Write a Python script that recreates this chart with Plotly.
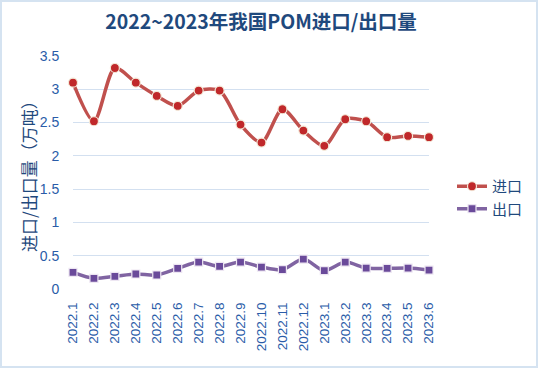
import plotly.graph_objects as go

months = ["2022.1", "2022.2", "2022.3", "2022.4", "2022.5", "2022.6", "2022.7", "2022.8", "2022.9",
          "2022.10", "2022.11", "2022.12", "2023.1", "2023.2", "2023.3", "2023.4", "2023.5", "2023.6"]
imports = [3.1, 2.52, 3.32, 3.1, 2.9, 2.75, 2.98, 2.98, 2.47, 2.2, 2.7, 2.38, 2.15, 2.55, 2.52, 2.28, 2.3, 2.28]
exports = [0.25, 0.16, 0.19, 0.225, 0.21, 0.31, 0.405, 0.34, 0.405, 0.33, 0.29, 0.45, 0.275, 0.405, 0.315, 0.31, 0.315, 0.285]
yticks = [0, 0.5, 1, 1.5, 2, 2.5, 3, 3.5]

x = list(range(len(months)))
txt = "#1F497D"
font_cjk = "Noto Sans CJK SC"

fig = go.Figure()
fig.add_trace(go.Scatter(
    x=x, y=imports, name="进口", mode="lines+markers",
    line=dict(color="#C0504D", width=3.5, shape="spline", smoothing=0.8),
    marker=dict(symbol="circle", size=9, color="#C0282A", line=dict(color="#F3E9D8", width=1.2)),
    cliponaxis=False))
fig.add_trace(go.Scatter(
    x=x, y=exports, name="出口", mode="lines+markers",
    line=dict(color="#8064A2", width=3.5, shape="spline", smoothing=0.8),
    marker=dict(symbol="square", size=8, color="#6A4A9A", line=dict(color="#EDE6F2", width=1.2)),
    cliponaxis=False))

fig.update_layout(
    width=538, height=368,
    margin=dict(l=73, r=109, t=56, b=79, autoexpand=False),
    paper_bgcolor="white", plot_bgcolor="white",
    font=dict(family=font_cjk, color=txt),
    title=dict(text="<b>2022~2023年我国POM进口/出口量</b>", x=261/538, xanchor="center",
               y=1 - 22/368, yanchor="middle", font=dict(size=19.5, color=txt, family=font_cjk)),
    showlegend=True,
    legend=dict(x=(452 - 73) / 356, y=(289 - 170) / 233, xanchor="left", yanchor="top",
                font=dict(size=15, color=txt, family=font_cjk), tracegroupgap=6,
                bgcolor="rgba(0,0,0,0)", itemwidth=30),
    xaxis=dict(range=[0, 17], tickmode="array", tickvals=x, ticktext=months, tickangle=-90,
               showgrid=False, zeroline=False, showline=False,
               ticks="outside", ticklen=7, tickcolor="rgba(0,0,0,0)",
               tickfont=dict(family="Liberation Sans, Arial", size=13.5, color="#2A5CA8")),
    yaxis=dict(range=[0, 3.5], tickmode="array", tickvals=yticks, showgrid=True, gridcolor="#D3E0F0",
               gridwidth=1, zeroline=False, showline=False,
               ticks="outside", ticklen=10, tickcolor="rgba(0,0,0,0)",
               tickfont=dict(family="Liberation Sans, Arial", size=14, color="#2A5CA8")),
    annotations=[dict(text="进口/出口量（万吨）", textangle=-90, xref="paper", yref="paper",
                      x=(28 - 73) / 356, y=(289 - 172) / 233, xanchor="center", yanchor="middle",
                      showarrow=False, font=dict(size=17, color=txt, family=font_cjk))],
    shapes=[dict(type="rect", xref="paper", yref="paper",
                 x0=(1 - 73) / 356, x1=(537 - 73) / 356, y0=(289 - 367) / 233, y1=(289 - 1) / 233,
                 line=dict(color="#D5E3F1", width=2), fillcolor="rgba(0,0,0,0)", layer="below")],
)

fig.write_html("out.html", config={"displayModeBar": False},
               post_script="document.body.style.margin='0';")
